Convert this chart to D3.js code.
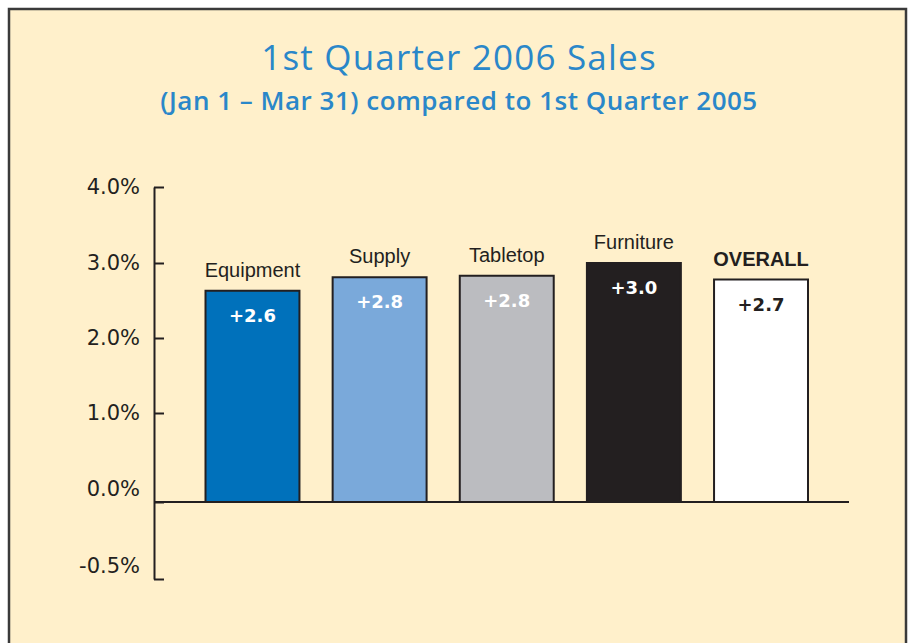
<!DOCTYPE html>
<html>
<head>
<meta charset="utf-8">
<script src="https://cdn.jsdelivr.net/npm/d3@7"></script>
<style>
  html, body { margin: 0; padding: 0; background: #ffffff; }
  svg { display: block; }
</style>
</head>
<body>
<div id="chart"></div>
<script>
// ---- Data ----
const categories = ["Equipment", "Supply", "Tabletop", "Furniture", "OVERALL"];
const values = [2.63, 2.81, 2.83, 3.0, 2.78];
const valueLabels = ["+2.6", "+2.8", "+2.8", "+3.0", "+2.7"];
const tickValues = [-0.5, 0, 1, 2, 3, 4];
const tickLabels = ["-0.5%", "0.0%", "1.0%", "2.0%", "3.0%", "4.0%"];
const barColors = ["#0071bb", "#7aa9da", "#bbbcc0", "#231f20", "#ffffff"];
const valueColors = ["#ffffff", "#ffffff", "#ffffff", "#ffffff", "#231f20"];
const title = "1st Quarter 2006 Sales";
const subtitle = "(Jan 1 \u2013 Mar 31) compared to 1st Quarter 2005";

// ---- Setup ----
const W = 909, H = 643;
const svg = d3.select("#chart").append("svg").attr("width", W).attr("height", H);

// panel
svg.append("rect")
  .attr("x", 9).attr("y", 9).attr("width", 897).attr("height", H + 20)
  .attr("fill", "#fff0cb").attr("stroke", "#3a3a3a").attr("stroke-width", 2.5);

// titles
svg.append("text")
  .attr("x", 459).attr("y", 70)
  .attr("text-anchor", "middle")
  .attr("font-family", "'Open Sans', sans-serif")
  .attr("font-weight", 400)
  .attr("font-size", 35)
  .attr("letter-spacing", 1.2)
  .attr("fill", "#2a87c9")
  .text(title);

svg.append("text")
  .attr("x", 459).attr("y", 110)
  .attr("text-anchor", "middle")
  .attr("font-family", "'Open Sans', sans-serif")
  .attr("font-weight", 600)
  .attr("font-size", 26)
  .attr("letter-spacing", 0.5)
  .attr("fill", "#2a87c9")
  .text(subtitle);

// ---- Scales ----
// the original axis is piecewise: tick gaps are not proportional
const y = d3.scaleLinear()
  .domain([-0.5, 0, 1, 2, 3, 4])
  .range([579, 502, 413, 338, 263, 187]);

const x = d3.scaleBand()
  .domain(categories)
  .range([205.5, 808])
  .paddingInner(0.261)
  .paddingOuter(0);

const axisX = 154;
const plotRight = 849;
const ink = "#231f20";

// ---- Bars ----
const bars = svg.append("g");
bars.selectAll("rect")
  .data(categories)
  .join("rect")
  .attr("x", d => x(d))
  .attr("y", (d, i) => y(values[i]))
  .attr("width", x.bandwidth())
  .attr("height", (d, i) => y(0) - y(values[i]))
  .attr("fill", (d, i) => barColors[i])
  .attr("stroke", ink)
  .attr("stroke-width", 2);

// category labels
svg.append("g").selectAll("text")
  .data(categories)
  .join("text")
  .attr("x", d => x(d) + x.bandwidth() / 2)
  .attr("y", (d, i) => y(values[i]) - 14)
  .attr("text-anchor", "middle")
  .attr("font-family", "'Liberation Sans', Arial, sans-serif")
  .attr("font-size", 20)
  .attr("font-weight", d => d === "OVERALL" ? 700 : 400)
  .attr("fill", ink)
  .text(d => d);

// value labels
svg.append("g").selectAll("text")
  .data(categories)
  .join("text")
  .attr("x", d => x(d) + x.bandwidth() / 2)
  .attr("y", (d, i) => y(values[i]) + 31)
  .attr("text-anchor", "middle")
  .attr("font-family", "'DejaVu Sans', sans-serif")
  .attr("font-size", 18)
  .attr("font-weight", 700)
  .attr("fill", (d, i) => valueColors[i])
  .text((d, i) => valueLabels[i]);

// zero line
svg.append("line")
  .attr("x1", axisX).attr("x2", plotRight)
  .attr("y1", y(0)).attr("y2", y(0))
  .attr("stroke", ink).attr("stroke-width", 2);

// ---- Y axis ----
const yAxis = d3.axisLeft(y)
  .tickValues(tickValues)
  .tickFormat((d, i) => tickLabels[i])
  .tickSizeInner(-10)
  .tickSizeOuter(0)
  .tickPadding(14);

const gy = svg.append("g")
  .attr("transform", `translate(${axisX},0)`)
  .call(yAxis);

gy.select(".domain").attr("stroke", ink).attr("stroke-width", 2);
gy.selectAll(".tick line").attr("stroke", ink).attr("stroke-width", 2);
gy.selectAll(".tick text")
  .attr("font-family", "'DejaVu Sans', sans-serif")
  .attr("font-size", 21)
  .attr("fill", ink)
  .attr("dy", d => d <= 0 ? "-0.32em" : "0.32em");
</script>
</body>
</html>
